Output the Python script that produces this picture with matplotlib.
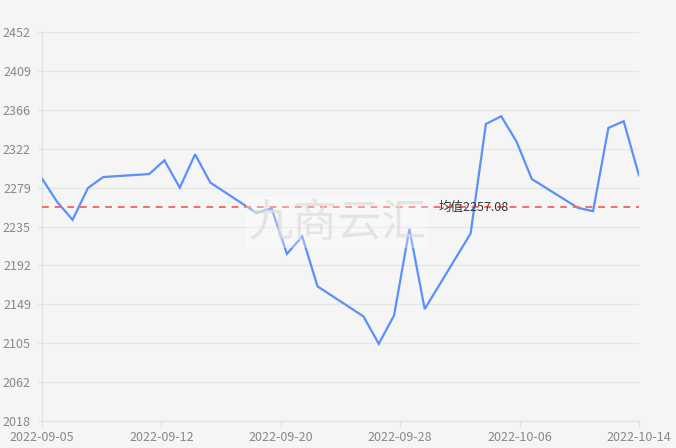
import matplotlib.pyplot as plt
import numpy as np
import pandas as pd

plt.rcParams['font.family'] = ['Noto Sans CJK SC', 'DejaVu Sans']

# Data: trading days (weekdays) 2022-09-05 .. 2022-10-14
dates = pd.bdate_range('2022-09-05', '2022-10-14')
values = [2288.8, 2262.6, 2242.9, 2278.3, 2290.6,
          2293.9, 2309.2, 2278.7, 2315.9, 2284.3,
          2250.7, 2255.5, 2204.9, 2224.2, 2168.6,
          2135.1, 2104.5, 2136.2, 2232.8, 2143.3,
          2227.6, 2349.8, 2358.4, 2330.1, 2288.3,
          2256.3, 2252.5, 2345.4, 2352.8, 2292.4]
mean_value = 2257.08
y_min, y_max = 2018.4, 2452.4

start = dates[0]
days = np.array([(d - start).days for d in dates])

fig = plt.figure(figsize=(6.76, 4.48), dpi=100, facecolor='#f5f5f5')
ax = fig.add_axes([42/676, 27/448, (639-42)/676, (421-32)/448])
ax.set_facecolor('#f5f5f5')

ax.plot(days, values, color='#5b8ff9', lw=1.6, zorder=3, solid_joinstyle='miter')
ax.axhline(mean_value, color='#f56c6c', lw=1.4, ls=(0, (3.5, 3)), zorder=4)
ax.text(28.2, mean_value, '均值%.2f' % mean_value, fontsize=9, color='#333333',
        va='center', ha='center', zorder=5)

# watermark
ax.text(0.495, 0.51, '九商云汇', transform=ax.transAxes, fontsize=32, color='#dcdcdc',
        alpha=0.7, ha='center', va='center', zorder=6,
        bbox=dict(boxstyle='square,pad=0.05', fc='white', ec='none', alpha=0.3))

ax.set_xlim(0, days[-1])
ax.set_ylim(y_min, y_max)

xt = np.linspace(0, days[-1], 6)
ax.set_xticks(xt)
ax.set_xticklabels([(start + pd.Timedelta(days=int(np.floor(t)))).strftime('%Y-%m-%d') for t in xt])
yt = np.linspace(y_min, y_max, 11)
ax.set_yticks(yt)
ax.set_yticklabels(['%d' % round(t) for t in yt])

ax.grid(axis='y', color='#e6e6e6', lw=1)
ax.set_axisbelow(True)
for s in ['top', 'right']:
    ax.spines[s].set_visible(False)
ax.spines['left'].set_color('#e0e0e0')
ax.spines['bottom'].set_color('#e0e0e0')
ax.tick_params(axis='both', colors='#e0e0e0', labelcolor='#888888', labelsize=9)
ax.tick_params(axis='y', length=3, pad=5)
ax.tick_params(axis='x', length=4, pad=3)

fig.savefig('out.png', dpi=100, facecolor='#f5f5f5')
